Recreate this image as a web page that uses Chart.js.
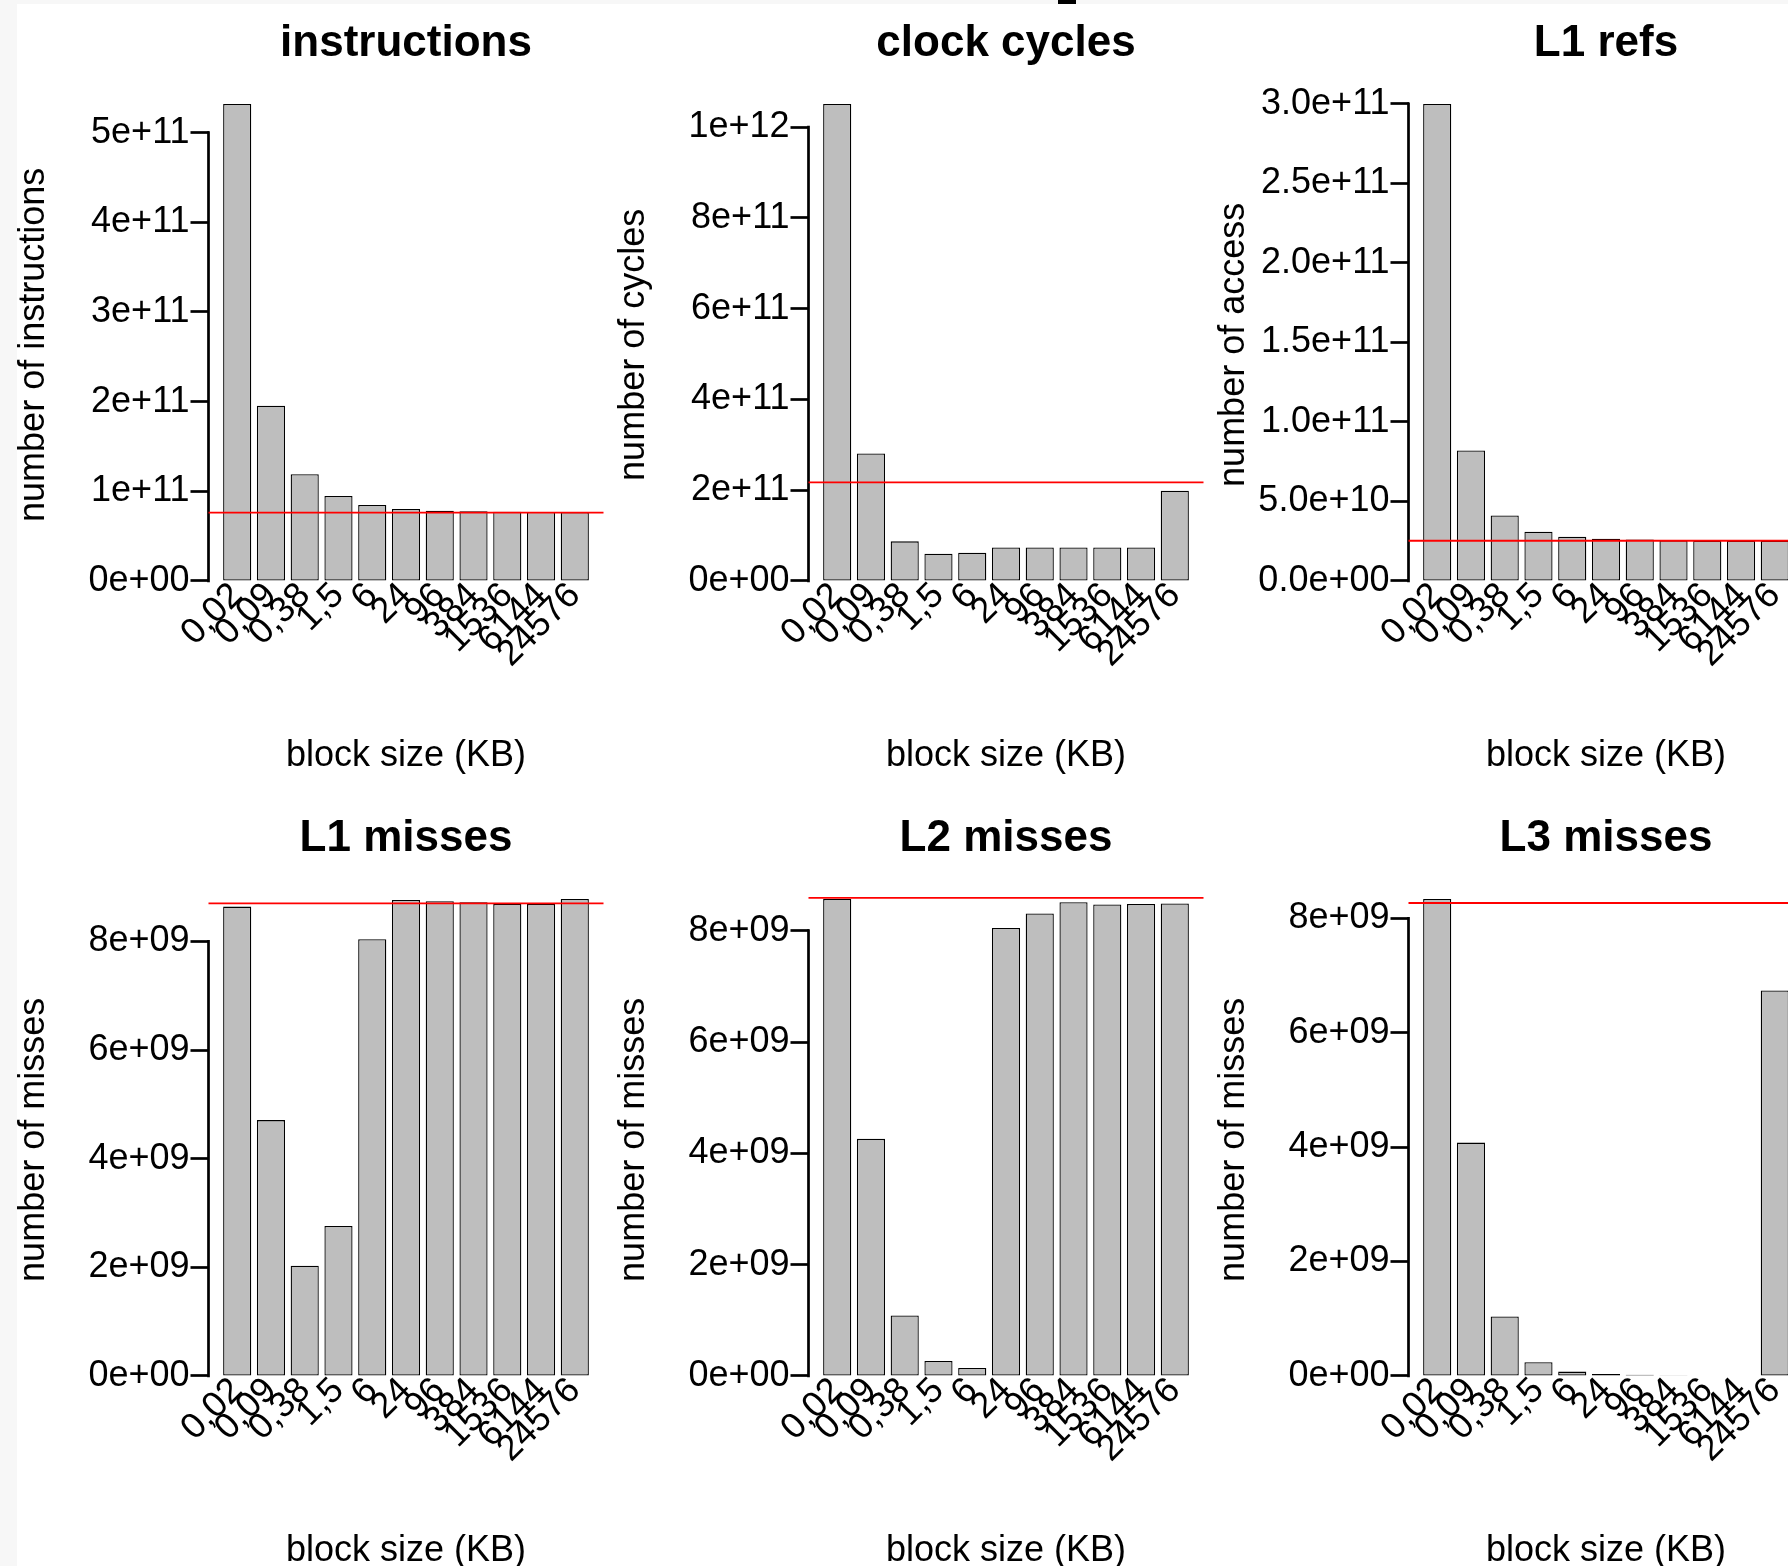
<!DOCTYPE html>
<html>
<head>
<meta charset="utf-8">
<script src="https://cdn.jsdelivr.net/npm/chart.js@4/dist/chart.umd.min.js"></script>
<style>
html,body{margin:0;padding:0;width:1788px;height:1566px;overflow:hidden;background:#f7f7f7;}
#sheet{position:absolute;left:17px;top:4px;width:1771px;height:1562px;background:#ffffff;}
#mark{position:absolute;left:1058px;top:0;width:18px;height:4px;background:#000;}
canvas{position:absolute;}
</style>
</head>
<body>
<div id="sheet"></div>
<div id="mark"></div>
<canvas id="c0"></canvas><canvas id="c1"></canvas><canvas id="c2"></canvas>
<canvas id="c3"></canvas><canvas id="c4"></canvas><canvas id="c5"></canvas>
<script>
// ---------------- data ----------------
const categories = ['0,02','0,09','0,38','1,5','6','24','96','384','1536','6144','24576'];

const instructions = [5.32e11, 1.955e11, 1.19e11, 0.948e11, 0.848e11, 0.803e11, 0.784e11, 0.777e11, 0.773e11, 0.770e11, 0.766e11];
const clockCycles  = [1.0508e12, 2.807e11, 8.73e10, 6.0e10, 6.22e10, 7.36e10, 7.36e10, 7.36e10, 7.36e10, 7.36e10, 1.988e11];
const l1Refs       = [3.0e11, 8.2e10, 4.12e10, 3.1e10, 2.78e10, 2.66e10, 2.6e10, 2.55e10, 2.53e10, 2.53e10, 2.53e10];
const l1Misses     = [8.64e9, 4.71e9, 2.03e9, 2.76e9, 8.04e9, 8.76e9, 8.74e9, 8.72e9, 8.69e9, 8.69e9, 8.78e9];
const l2Misses     = [8.57e9, 4.26e9, 1.086e9, 0.27e9, 0.144e9, 8.05e9, 8.31e9, 8.51e9, 8.47e9, 8.48e9, 8.49e9];
const l3Misses     = [8.34e9, 4.08e9, 1.04e9, 0.24e9, 0.076e9, 0.035e9, 0.02e9, 0.012e9, 0.006e9, 0.006e9, 6.74e9];

const refLines = [0.762e11, 2.17e11, 2.53e10, 8.70e9, 8.59e9, 8.27e9];

const panelTitles = ['instructions', 'clock cycles', 'L1 refs', 'L1 misses', 'L2 misses', 'L3 misses'];
const yAxisTitles = ['number of instructions', 'number of cycles', 'number of access',
                     'number of misses', 'number of misses', 'number of misses'];
const xAxisTitle = 'block size (KB)';

const yMins = [-2.681e10, -5.296e10, -1.512e10, -4.425e8, -4.319e8, -4.203e8];
const yMaxs = [5.535e11, 1.0933e12, 3.121e11, 9.135e9, 8.916e9, 8.677e9];

const yTickValues = [
  [0, 1e11, 2e11, 3e11, 4e11, 5e11],
  [0, 2e11, 4e11, 6e11, 8e11, 1e12],
  [0, 5e10, 1e11, 1.5e11, 2e11, 2.5e11, 3e11],
  [0, 2e9, 4e9, 6e9, 8e9],
  [0, 2e9, 4e9, 6e9, 8e9],
  [0, 2e9, 4e9, 6e9, 8e9]
];
const yTickLabels = [
  ['0e+00', '1e+11', '2e+11', '3e+11', '4e+11', '5e+11'],
  ['0e+00', '2e+11', '4e+11', '6e+11', '8e+11', '1e+12'],
  ['0.0e+00', '5.0e+10', '1.0e+11', '1.5e+11', '2.0e+11', '2.5e+11', '3.0e+11'],
  ['0e+00', '2e+09', '4e+09', '6e+09', '8e+09'],
  ['0e+00', '2e+09', '4e+09', '6e+09', '8e+09'],
  ['0e+00', '2e+09', '4e+09', '6e+09', '8e+09']
];

const seriesList = [instructions, clockCycles, l1Refs, l1Misses, l2Misses, l3Misses];

// ---------------- layout ----------------
const X_MIN = -0.85, X_MAX = 10.85;
const CANVAS_W = 788, CANVAS_H = 774;
const PANEL_DX = 600, PANEL_DY = 795, ORIGIN_X = 12, ORIGIN_Y = 5;
const Y_AXIS_W = 196.5, X_AXIS_H = 172.3;
const FONT = "'Liberation Sans', Arial, Helvetica, sans-serif";

Chart.defaults.font.family = FONT;
Chart.defaults.color = '#000';

const rDecor = {
  id: 'rDecor',
  afterDatasetsDraw(chart, args, opts) {
    const {ctx, chartArea: a} = chart;
    const y = chart.scales.y;
    const t = y.ticks;
    const yb = y.getPixelForValue(t[0].value);
    const yt = y.getPixelForValue(t[t.length - 1].value);
    ctx.save();
    ctx.strokeStyle = '#000';
    ctx.lineWidth = 2.7;
    ctx.lineCap = 'square';
    ctx.beginPath();
    ctx.moveTo(a.left, yb);
    ctx.lineTo(a.left, yt);
    ctx.stroke();
    const yr = y.getPixelForValue(opts.ref);
    ctx.strokeStyle = '#ff0000';
    ctx.lineWidth = 1.8;
    ctx.lineCap = 'butt';
    ctx.beginPath();
    ctx.moveTo(a.left, yr);
    ctx.lineTo(a.right, yr);
    ctx.stroke();
    ctx.restore();
  }
};

seriesList.forEach((series, k) => {
  const row = Math.floor(k / 3), col = k % 3;
  const cv = document.getElementById('c' + k);
  cv.width = CANVAS_W; cv.height = CANVAS_H;
  cv.style.left = (ORIGIN_X + PANEL_DX * col) + 'px';
  cv.style.top = (ORIGIN_Y + PANEL_DY * row) + 'px';

  new Chart(cv, {
    type: 'bar',
    data: {
      datasets: [{
        data: series.map((v, i) => ({x: i, y: v})),
        backgroundColor: '#bebebe',
        borderColor: '#000',
        borderWidth: 1.3,
        borderSkipped: false,
        categoryPercentage: 1,
        barPercentage: 1 / 1.2
      }]
    },
    options: {
      responsive: false,
      animation: false,
      devicePixelRatio: 1,
      layout: {padding: {left: 0, right: 0, top: 0, bottom: CANVAS_H - 600 - X_AXIS_H}},
      plugins: {
        legend: {display: false},
        tooltip: {enabled: false},
        title: {
          display: true,
          text: panelTitles[k],
          font: {size: 44, weight: 'bold', family: FONT},
          color: '#000',
          padding: {top: 12.6, bottom: 14.3}
        },
        rDecor: {ref: refLines[k]}
      },
      scales: {
        x: {
          type: 'linear',
          min: X_MIN,
          max: X_MAX,
          offset: false,
          grid: {display: false},
          border: {display: false},
          afterBuildTicks: (s) => { s.ticks = categories.map((c, i) => ({value: i})); },
          afterFit: (s) => {
            s.height = X_AXIS_H;
            s.paddingLeft = 0; s.paddingRight = Y_AXIS_W;
            s.paddingTop = 0; s.paddingBottom = 0;
            s._computeLabelArea = () => null;
          },
          ticks: {
            autoSkip: false,
            minRotation: 45,
            maxRotation: 45,
            padding: -38.5,
            font: {size: 36},
            color: '#000',
            callback: (v) => categories[v]
          },
          title: {
            display: true,
            text: xAxisTitle,
            font: {size: 36},
            color: '#000',
            padding: {top: 0, bottom: 0}
          }
        },
        y: {
          type: 'linear',
          min: yMins[k],
          max: yMaxs[k],
          grid: {display: true, drawOnChartArea: false, drawTicks: true, tickLength: 18, tickWidth: 2.7, tickColor: '#000'},
          border: {display: false},
          afterBuildTicks: (s) => { s.ticks = yTickValues[k].map(v => ({value: v})); },
          afterFit: (s) => {
            s.width = Y_AXIS_W;
            s.paddingTop = 0; s.paddingBottom = 0;
          },
          ticks: {
            padding: 1,
            font: {size: 36},
            color: '#000',
            callback: (v, i) => yTickLabels[k][i]
          },
          title: {
            display: true,
            text: yAxisTitles[k],
            font: {size: 36},
            color: '#000',
            padding: {top: 0, bottom: 0}
          }
        }
      }
    },
    plugins: [rDecor]
  });
});
</script>
</body>
</html>
